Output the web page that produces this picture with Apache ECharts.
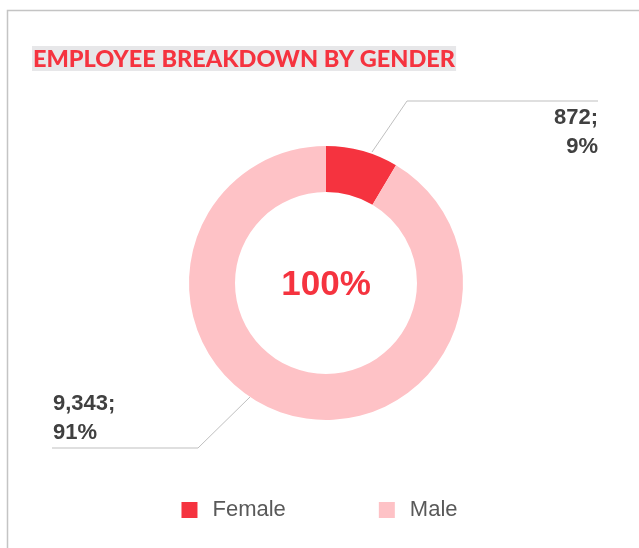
<!DOCTYPE html>
<html>
<head>
<meta charset="utf-8">
<script src="https://cdn.jsdelivr.net/npm/echarts@6/dist/echarts.min.js"></script>
<style>
  html, body { margin: 0; padding: 0; background: #fff; }
  #chart { width: 639px; height: 548px; }
</style>
</head>
<body>
<div id="chart"></div>
<script>
// data
const genders = ['Female', 'Male']
const headcount = [872, 9343]
const shares = ['9%', '91%']
const centerText = '100%'
const colors = ['#f5333f', '#fec2c6']

const cx = 326
const cy = 283

const chart = echarts.init(document.getElementById('chart'))

// label placement like the office chart: leader line to a horizontal rule
function placeLabel (params) {
  if (params.dataIndex === 0) {
    return {
      x: 598, y: 103, align: 'right', verticalAlign: 'top',
      labelLinePoints: [[372, 152], [407, 101], [598, 101]]
    }
  }
  return {
    x: 53, y: 447, align: 'left', verticalAlign: 'bottom',
    labelLinePoints: [[250, 397], [198, 448], [52, 448]]
  }
}

chart.setOption({
  animation: false,
  color: colors,
  title: {
    text: 'EMPLOYEE BREAKDOWN BY GENDER',
    left: 32,
    top: 47,
    padding: [1, 1, 0, 1],
    backgroundColor: '#e7e7e9',
    textStyle: {
      color: '#f5333f',
      fontFamily: 'Lato',
      fontWeight: 900,
      fontSize: 23.5,
      lineHeight: 22
    }
  },
  legend: {
    bottom: 22,
    left: 'center',
    icon: 'rect',
    itemWidth: 16,
    itemHeight: 16,
    itemGap: 93,
    textStyle: {
      color: '#595959',
      fontFamily: 'Liberation Sans',
      fontSize: 22,
      padding: [0, 0, 0, 10]
    },
    data: genders
  },
  graphic: [
    {
      type: 'rect',
      shape: { x: 7.5, y: 10.5, width: 700, height: 600 },
      style: { fill: 'none', stroke: '#c4c4c4', lineWidth: 1.5 },
      silent: true
    },
    {
      type: 'text',
      x: cx,
      y: cy + 2,
      style: {
        text: centerText,
        fill: '#f5333f',
        font: 'bold 35px "Liberation Sans"',
        align: 'center',
        verticalAlign: 'middle'
      }
    }
  ],
  series: [
    {
      type: 'pie',
      center: [cx, cy],
      radius: [91, 137],
      startAngle: 90,
      clockwise: true,
      avoidLabelOverlap: false,
      data: genders.map((g, i) => ({
        name: g,
        value: headcount[i],
        share: shares[i]
      })),
      label: {
        show: true,
        position: 'outside',
        formatter: p => p.value.toLocaleString('en-US') + ';\n' + p.data.share,
        color: '#404040',
        fontFamily: 'Liberation Sans',
        fontWeight: 'bold',
        fontSize: 22,
        lineHeight: 29
      },
      labelLine: {
        show: true,
        lineStyle: { color: '#bfbfbf', width: 1 }
      },
      labelLayout: placeLabel,
      emphasis: { disabled: true }
    }
  ]
})
</script>
</body>
</html>
